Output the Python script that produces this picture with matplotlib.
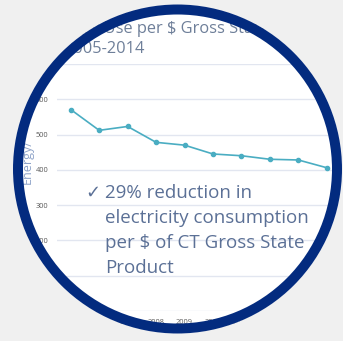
import numpy as np
import matplotlib
matplotlib.use("Agg")
import matplotlib.pyplot as plt
from matplotlib.path import Path
from matplotlib.patches import PathPatch, Circle

years = [2005, 2006, 2007, 2008, 2009, 2010, 2011, 2012, 2013, 2014]
energy_per_gsp = [571, 512, 523, 478, 470, 445, 440, 430, 428, 406]
y_ticks = [0, 100, 200, 300, 400, 500, 600, 700]
title_lines = ["Energy Use per $ Gross State Product", "2005-2014"]
y_label = "Energy/"
note_lines = ["29% reduction in", "electricity consumption", "per $ of CT Gross State", "Product"]
check_mark = "\u2713"

plt.rcParams["font.family"] = ["Open Sans", "DejaVu Sans"]

W, H = 343, 341
fig = plt.figure(figsize=(W / 100, H / 100), dpi=100, facecolor="#f0f0f0")

# background layer in pixel coords (y down)
bg = fig.add_axes([0, 0, 1, 1], zorder=0)
bg.set_xlim(0, W)
bg.set_ylim(H, 0)
bg.axis("off")
cx, cy, r_out, ring = 177.5, 169, 164.5, 10
bg.add_patch(Circle((cx, cy), r_out, facecolor="white", edgecolor="none"))
bg.text(47, 29, title_lines[0], fontsize=11.8, color="#6e7f99", va="center", ha="left")
bg.text(64, 49, title_lines[1], fontsize=11.8, color="#6e7f99", va="center", ha="left")
bg.text(27, 162, y_label, fontsize=9, color="#8ea3c8", rotation=90, va="center", ha="center")

# the chart itself
ax = fig.add_axes([56.5 / W, 1 - 311 / H, (341 - 56.5) / W, (311 - 64) / H], zorder=1)
ax.patch.set_alpha(0)
ax.plot(years, energy_per_gsp, color="#4aadc2", lw=1.2, marker="o", ms=3)
ax.set_xlim(years[0] - 0.5, years[-1] + 0.5)
ax.set_ylim(y_ticks[0], y_ticks[-1])
ax.set_xticks(years)
ax.set_yticks(y_ticks)
ax.grid(axis="y", color="#e2e6f0", lw=1)
ax.set_axisbelow(True)
for s in ax.spines.values():
    s.set_visible(False)
ax.tick_params(length=0, labelsize=5.3, labelcolor="#595959", pad=6)

# top layer: note text, mask outside the circle, navy ring
top = fig.add_axes([0, 0, 1, 1], zorder=2)
top.set_xlim(0, W)
top.set_ylim(H, 0)
top.axis("off")

top.text(85, 193, check_mark, fontsize=13, color="#5b7096", va="center", ha="left",
         family=["DejaVu Sans"])
for i, line in enumerate(note_lines):
    top.text(105, 193 + i * 25, line, fontsize=13.5, color="#5b7096", va="center", ha="left")

theta = np.linspace(0, 2 * np.pi, 721)
circ = np.column_stack([cx + r_out * np.cos(theta), cy + r_out * np.sin(theta)])[::-1]
rect = np.array([[-5, -5], [W + 5, -5], [W + 5, H + 5], [-5, H + 5], [-5, -5]])
verts = np.concatenate([rect, circ])
codes = ([Path.MOVETO] + [Path.LINETO] * 3 + [Path.CLOSEPOLY]
         + [Path.MOVETO] + [Path.LINETO] * (len(circ) - 2) + [Path.CLOSEPOLY])
top.add_patch(PathPatch(Path(verts, codes), facecolor="#f0f0f0", edgecolor="none", zorder=5))
top.add_patch(Circle((cx, cy), r_out - ring / 2, facecolor="none", edgecolor="#032b7f",
                     lw=ring * 0.72, zorder=6))

fig.savefig("out.png", dpi=100, facecolor=fig.get_facecolor())
